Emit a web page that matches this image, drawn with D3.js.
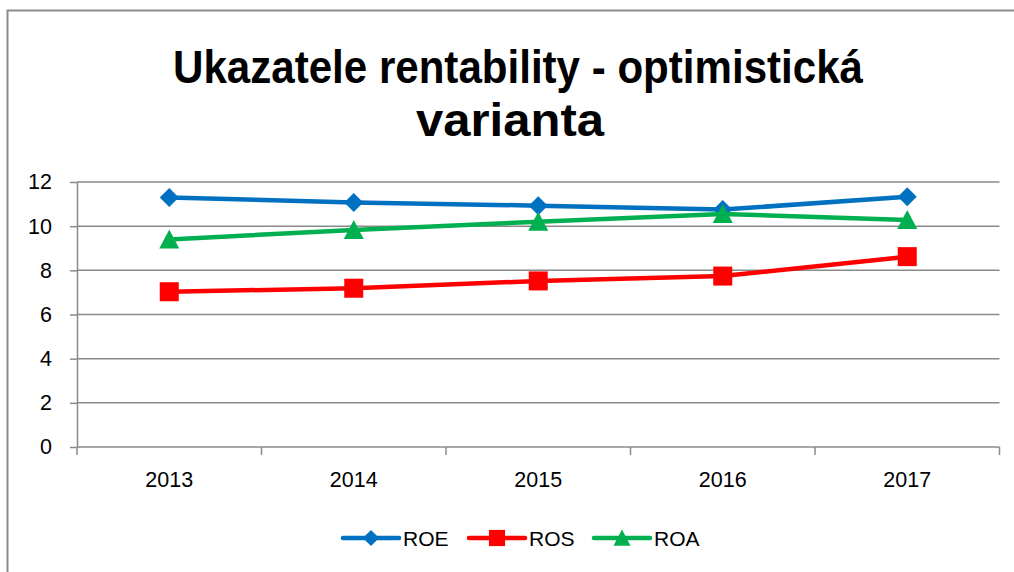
<!DOCTYPE html>
<html>
<head>
  <meta charset="utf-8">
  <style>
    body { margin: 0; background: #fff; }
    svg text { font-family: "Liberation Sans", Arial, sans-serif; fill: #000; }
    svg .grid line { stroke: #8a8a8a; stroke-width: 1.5px; }
    svg .axis path, svg .axis line { stroke: #8a8a8a; stroke-width: 1.5px; }
    svg .serie { fill: none; stroke-width: 4.5px; stroke-linejoin: round; }
  </style>
</head>
<body>
<script src="https://cdn.jsdelivr.net/npm/d3@7"></script>
<script>
  // data
  var years = ["2013", "2014", "2015", "2016", "2017"];
  var roe = [11.3, 11.07, 10.93, 10.75, 11.33];
  var ros = [7.03, 7.19, 7.52, 7.74, 8.62];
  var roa = [9.4, 9.83, 10.2, 10.55, 10.28];
  var yTicks = [0, 2, 4, 6, 8, 10, 12];

  var series = [
    { name: "ROE", values: roe, color: "#0070C0", symbol: "diamond" },
    { name: "ROS", values: ros, color: "#FF0000", symbol: "square" },
    { name: "ROA", values: roa, color: "#00B050", symbol: "triangle" }
  ];

  var W = 1014, H = 572;
  var plot = { left: 77, right: 999.5, top: 182, bottom: 447 };

  var svg = d3.select("body").append("svg")
      .attr("width", W)
      .attr("height", H);

  // outer chart frame (runs off the picture to the right and bottom)
  svg.append("path")
      .attr("d", "M7.5," + (H + 5) + "V10.5H" + (W + 5))
      .style("fill", "none")
      .style("stroke", "#8c8c8c")
      .style("stroke-width", "2px");

  // title
  var title = svg.append("text")
      .attr("text-anchor", "middle")
      .style("font-size", "46px")
      .style("font-weight", "bold");
  title.append("tspan")
      .attr("x", 518).attr("y", 83)
      .attr("textLength", 690)
      .attr("lengthAdjust", "spacingAndGlyphs")
      .text("Ukazatele rentability - optimistická");
  title.append("tspan")
      .attr("x", 510).attr("y", 136)
      .attr("textLength", 188)
      .attr("lengthAdjust", "spacingAndGlyphs")
      .text("varianta");

  // scales
  var x = d3.scaleBand().domain(years).range([plot.left, plot.right]);
  var y = d3.scaleLinear().domain([0, 12]).range([plot.bottom, plot.top]);
  var cx = function (i) { return x(years[i]) + x.bandwidth() / 2; };

  // horizontal grid
  svg.append("g")
      .classed("grid", true)
    .selectAll("line")
    .data(yTicks.filter(function (d) { return d > 0; }))
    .join("line")
      .attr("x1", plot.left)
      .attr("x2", plot.right)
      .attr("y1", function (d) { return y(d); })
      .attr("y2", function (d) { return y(d); });

  // y axis
  var yAxis = d3.axisLeft(y).tickValues(yTicks).tickSize(7).tickSizeOuter(0).tickPadding(18);
  svg.append("g")
      .classed("axis", true)
      .attr("transform", "translate(" + plot.left + ",0)")
      .call(yAxis)
    .selectAll("text")
      .style("font-size", "21.5px")
      .attr("font-family", null);

  // x axis: labels centred in bands, ticks on band edges
  var xAxis = d3.axisBottom(x).tickSize(0).tickSizeOuter(0).tickPadding(25);
  var gx = svg.append("g")
      .classed("axis", true)
      .attr("transform", "translate(0," + plot.bottom + ")")
      .call(xAxis);
  gx.select(".domain").attr("d", "M" + plot.left + ",0H" + plot.right);
  gx.selectAll("text")
      .style("font-size", "21.5px")
      .attr("font-family", null);
  gx.selectAll("line.edge")
    .data(years.map(function (d) { return x(d); }).concat([x.range()[1]]))
    .join("line")
      .classed("edge", true)
      .attr("x1", function (d) { return d; })
      .attr("x2", function (d) { return d; })
      .attr("y1", 0)
      .attr("y2", 8);

  // symbols
  function marker(sel, kind, color) {
    if (kind === "diamond") {
      sel.append("path").attr("d", "M0,-9.5L9.5,0L0,9.5L-9.5,0Z").style("fill", color);
    } else if (kind === "square") {
      sel.append("rect").attr("x", -9.5).attr("y", -9.5).attr("width", 19).attr("height", 19).style("fill", color);
    } else {
      sel.append("path").attr("d", "M0,-10L10,9L-10,9Z").style("fill", color);
    }
  }

  var line = d3.line()
      .x(function (d, i) { return cx(i); })
      .y(function (d) { return y(d); });

  series.forEach(function (s) {
    svg.append("path")
        .classed("serie", true)
        .attr("d", line(s.values))
        .style("stroke", s.color);
    s.values.forEach(function (v, i) {
      var g = svg.append("g")
          .attr("transform", "translate(" + cx(i) + "," + y(v) + ")");
      marker(g, s.symbol, s.color);
    });
  });

  // legend
  var legendX = [343, 469, 594];
  var legendY = 538;
  series.forEach(function (s, i) {
    var g = svg.append("g").attr("transform", "translate(" + legendX[i] + "," + legendY + ")");
    g.append("line")
        .attr("x1", 0).attr("x2", 56)
        .attr("y1", 0).attr("y2", 0)
        .style("stroke", s.color)
        .style("stroke-width", "4.5px")
        .style("stroke-linecap", "round");
    var m = g.append("g").attr("transform", "translate(28,0) scale(0.85)");
    marker(m, s.symbol, s.color);
    g.append("text")
        .attr("x", 60)
        .attr("y", 8)
        .style("font-size", "21px")
        .text(s.name);
  });
</script>
</body>
</html>
